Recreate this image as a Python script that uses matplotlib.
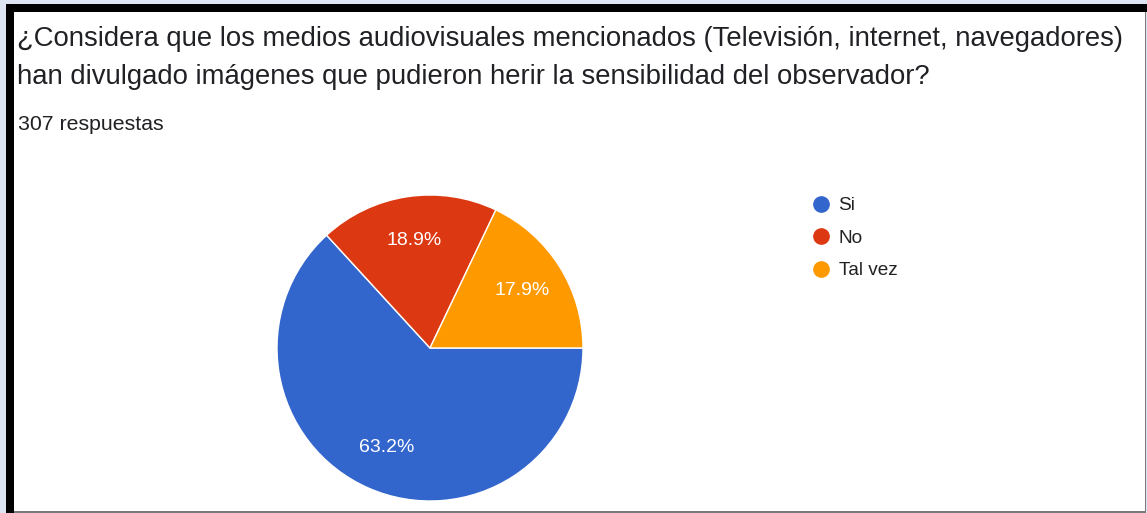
import matplotlib
matplotlib.use("Agg")
import matplotlib.pyplot as plt
from matplotlib.patches import Rectangle
from matplotlib.lines import Line2D

# ---- data ----
categories = ["Si", "No", "Tal vez"]
counts = [194, 58, 55]
colors = ["#3366cc", "#dc3912", "#ff9900"]
title_lines = [
    "¿Considera que los medios audiovisuales mencionados (Televisión, internet, navegadores)",
    "han divulgado imágenes que pudieron herir la sensibilidad del observador?",
]
subtitle = "307 respuestas"

W, H = 1147, 513
fig = plt.figure(figsize=(W / 100, H / 100), dpi=100)
fig.patch.set_facecolor("#dde4f2")

def fx(px):
    return px / W

def fy(py):
    return 1 - py / H

def rect(x0, y0, x1, y1, color, z):
    fig.add_artist(Rectangle((fx(x0), fy(y1)), fx(x1) - fx(x0), fy(y0) - fy(y1),
                             transform=fig.transFigure, facecolor=color,
                             edgecolor="none", zorder=z))

rect(6, 4, 1146, 512, "white", -2)       # card
rect(6, 4, 14, 513, "black", -1)         # left border
rect(6, 4, 1147, 12, "black", -1)        # top border
rect(1144.5, 12, 1146, 513, "#7a7a7a", -1)
rect(14, 511, 1146, 512.5, "#7a7a7a", -1)

# title
font_main = ["Liberation Sans", "DejaVu Sans"]
title_font = dict(family=font_main, fontsize=19.85, color="#202124")
fig.text(fx(17), fy(46), title_lines[0], ha="left", va="baseline", **title_font)
fig.text(fx(17), fy(84), title_lines[1], ha="left", va="baseline", **title_font)
fig.text(fx(18), fy(130), subtitle, ha="left", va="baseline",
         family=font_main, fontsize=15.3, color="#202124")

# pie
cx, cy, r = 430, 348, 153
ax = fig.add_axes([fx(cx - r), fy(cy + r), fx(2 * r), fy(cy - r) - fy(cy + r)])
ax.set_zorder(1)
wedges, texts, autotexts = ax.pie(
    counts, colors=colors, startangle=0, counterclock=False,
    autopct="%1.1f%%", pctdistance=0.71, radius=1,
    wedgeprops=dict(edgecolor="white", linewidth=1),
    textprops=dict(color="white", fontsize=14, family=font_main),
)
ax.set_xlim(-1, 1)
ax.set_ylim(-1, 1)
ax.set_aspect("equal")
ax.axis("off")

# legend
handles = [Line2D([0], [0], marker="o", linestyle="none", markersize=11,
                  markerfacecolor=c, markeredgecolor=c) for c in colors]
leg = fig.legend(handles, categories, loc="upper left",
                 bbox_to_anchor=(fx(811), fy(197)), frameon=False,
                 prop=dict(family=font_main, size=13.7),
                 handlelength=1.0, handletextpad=0.45, labelspacing=0.8,
                 borderpad=0, borderaxespad=0)
for t in leg.get_texts():
    t.set_color("#222222")

fig.savefig("out.png", dpi=100, facecolor=fig.get_facecolor())
